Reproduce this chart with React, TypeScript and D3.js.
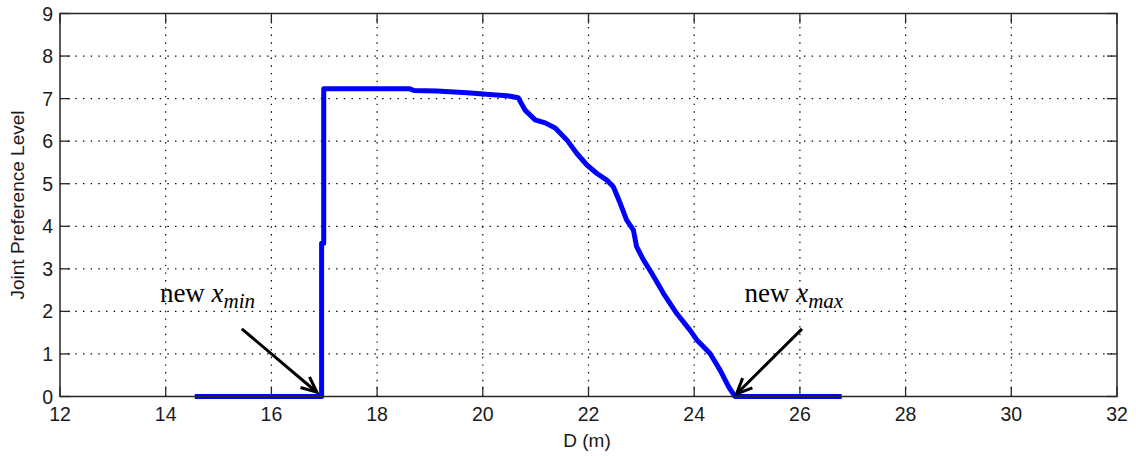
import React from "react";
import * as d3 from "d3";

const xTicks = [12, 14, 16, 18, 20, 22, 24, 26, 28, 30, 32];
const yTicks = [0, 1, 2, 3, 4, 5, 6, 7, 8, 9];

const dValues = [14.55, 16.95, 16.95, 16.99, 16.99, 18.62, 18.7, 19.13, 19.7, 20.07, 20.45, 20.67, 20.8, 20.99, 21.18, 21.37, 21.59, 21.78, 21.97, 22.16, 22.34, 22.47, 22.6, 22.72, 22.85, 22.91, 23.04, 23.2, 23.42, 23.67, 23.92, 24.05, 24.3, 24.49, 24.65, 24.77, 26.79];
const prefValues = [0, 0, 3.6, 3.6, 7.23, 7.23, 7.19, 7.18, 7.14, 7.1, 7.07, 7.02, 6.73, 6.5, 6.43, 6.31, 6.03, 5.71, 5.44, 5.24, 5.09, 4.93, 4.54, 4.15, 3.91, 3.52, 3.21, 2.89, 2.42, 1.95, 1.56, 1.33, 1.01, 0.62, 0.23, 0, 0];

const annotations = [
  { word: "new ", sub: "min", x: 13.89, y: 2.22, tailX: 15.44, tailY: 1.59, tipX: 16.86, tipY: 0.1 },
  { word: "new ", sub: "max", x: 24.95, y: 2.22, tailX: 26.04, tailY: 1.59, tipX: 24.8, tipY: 0.06 },
];

const W = 1136;
const H = 456;
const L = 60, R = 1117, T = 13.5, B = 396.5;

export default function App() {
  const x = d3.scaleLinear().domain([12, 32]).range([L, R]);
  const y = d3.scaleLinear().domain([0, 9]).range([B, T]);
  const pts: [number, number][] = dValues.map((d, i) => [d, prefValues[i]]);
  const line = d3.line<[number, number]>().x((d) => x(d[0])).y((d) => y(d[1]));
  const axisColor = "#262626";
  const tickLen = 10;
  const font = "Liberation Sans, Arial, sans-serif";

  return (
    <svg width={W} height={H} style={{ position: "absolute", left: 0, top: 0, background: "#fff" }}>
      <rect x={0} y={0} width={W} height={H} fill="#fff" />
      {xTicks.slice(1, -1).map((t) => (
        <line key={"gx" + t} x1={x(t)} x2={x(t)} y1={B} y2={T} stroke="#000" strokeWidth={1.2} strokeDasharray="1.4 6.27" />
      ))}
      {yTicks.slice(1, -1).map((t) => (
        <line key={"gy" + t} x1={L} x2={R} y1={y(t)} y2={y(t)} stroke="#000" strokeWidth={1.2} strokeDasharray="1.4 6.27" />
      ))}
      {xTicks.map((t) => (
        <g key={"tx" + t}>
          <line x1={x(t)} x2={x(t)} y1={B} y2={B - tickLen} stroke={axisColor} strokeWidth={1.3} />
          <line x1={x(t)} x2={x(t)} y1={T} y2={T + tickLen} stroke={axisColor} strokeWidth={1.3} />
          <text x={x(t)} y={421} textAnchor="middle" fontFamily={font} fontSize={19.5} fill="#1a1a1a">{t}</text>
        </g>
      ))}
      {yTicks.map((t) => (
        <g key={"ty" + t}>
          <line x1={L} x2={L + tickLen} y1={y(t)} y2={y(t)} stroke={axisColor} strokeWidth={1.3} />
          <line x1={R} x2={R - tickLen} y1={y(t)} y2={y(t)} stroke={axisColor} strokeWidth={1.3} />
          <text x={53} y={y(t) + 7} textAnchor="end" fontFamily={font} fontSize={19.5} fill="#1a1a1a">{t}</text>
        </g>
      ))}
      <path d={line(pts) || ""} fill="none" stroke="#0000ff" strokeWidth={5} strokeLinejoin="round" />
      <rect x={L} y={T} width={R - L} height={B - T} fill="none" stroke={axisColor} strokeWidth={1.5} />
      <text x={587} y={447} textAnchor="middle" fontFamily={font} fontSize={19} fill="#1a1a1a">D (m)</text>
      <text transform={`translate(24,205) rotate(-90)`} textAnchor="middle" fontFamily={font} fontSize={19} fill="#1a1a1a">Joint Preference Level</text>
      {annotations.map((a, i) => {
        const x1 = x(a.tailX), y1 = y(a.tailY), x2 = x(a.tipX), y2 = y(a.tipY);
        const ang = Math.atan2(y2 - y1, x2 - x1);
        const hl = 17, spread = 0.42;
        const h1 = [x2 - hl * Math.cos(ang - spread), y2 - hl * Math.sin(ang - spread)];
        const h2 = [x2 - hl * Math.cos(ang + spread), y2 - hl * Math.sin(ang + spread)];
        return (
          <g key={"a" + i}>
            <line x1={x1} y1={y1} x2={x2} y2={y2} stroke="#000" strokeWidth={3} />
            <polyline points={`${h1[0]},${h1[1]} ${x2},${y2} ${h2[0]},${h2[1]}`} fill="none" stroke="#000" strokeWidth={3} />
            <text x={x(a.x)} y={y(a.y)} fontFamily="Liberation Serif, Times New Roman, serif" fontSize={27} fill="#000">
              {a.word}
              <tspan fontStyle="italic">x</tspan>
              <tspan fontStyle="italic" fontSize={21} dy={6}>{a.sub}</tspan>
            </text>
          </g>
        );
      })}
    </svg>
  );
}
